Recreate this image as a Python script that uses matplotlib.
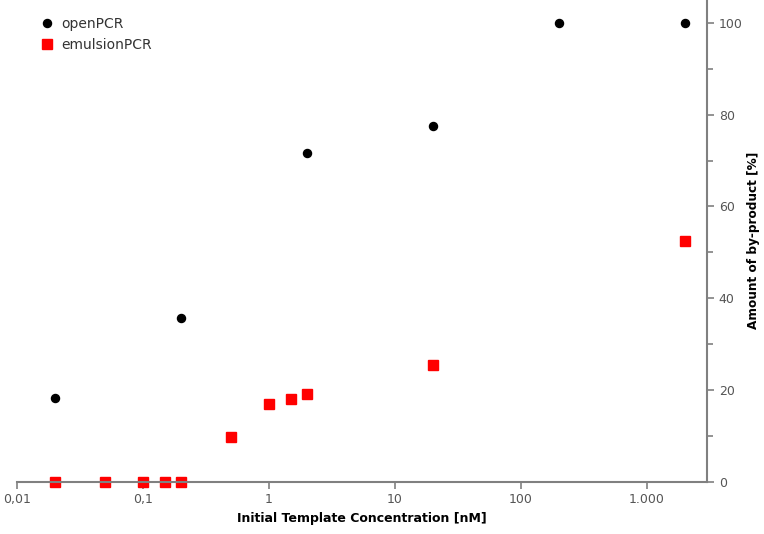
import matplotlib
matplotlib.use('Agg')
import matplotlib.pyplot as plt
from matplotlib.ticker import FixedLocator, FuncFormatter, MultipleLocator, NullLocator

#data
open_conc = [0.02, 0.2, 2, 20, 200, 2000]
open_byprod = [18.3, 35.7, 71.7, 77.5, 100, 100]

emul_conc = [0.02, 0.05, 0.1, 0.15, 0.2, 0.5, 1, 1.5, 2, 20, 2000]
emul_byprod = [0, 0, 0, 0, 0, 9.8, 16.8, 18.1, 19.1, 25.5, 52.4]

x_ticks = [0.01, 0.1, 1, 10, 100, 1000]
x_ticklabels = ['0,01', '0,1', '1', '10', '100', '1.000']

grey = '#808080'

fig = plt.figure(figsize=(7.64, 5.34), dpi=100)
ax = fig.add_axes([0.0223, 0.0983, 0.903, 0.9017])

ax.plot(open_conc, open_byprod, 'o', color='black', markersize=5.8,
        label='openPCR', clip_on=False)
ax.plot(emul_conc, emul_byprod, 's', color='#ff0000', markersize=7.5,
        label='emulsionPCR', clip_on=False)

ax.set_xscale('log')
ax.set_xlim(0.01, 3000)
ax.set_ylim(0, 105)

ax.xaxis.set_major_locator(FixedLocator(x_ticks))
ax.xaxis.set_minor_locator(NullLocator())
ax.xaxis.set_major_formatter(FuncFormatter(
    lambda v, p: x_ticklabels[x_ticks.index(v)] if v in x_ticks else ''))

ax.yaxis.tick_right()
ax.yaxis.set_label_position('right')
ax.yaxis.set_major_locator(MultipleLocator(20))
ax.yaxis.set_minor_locator(MultipleLocator(10))

for s in ['top', 'left']:
    ax.spines[s].set_visible(False)
for s in ['bottom', 'right']:
    ax.spines[s].set_color(grey)
    ax.spines[s].set_linewidth(1.5)

ax.tick_params(which='both', direction='out', color=grey, width=1.2,
               labelcolor='#555555', labelsize=9)
ax.tick_params(which='major', length=5)
ax.tick_params(which='minor', length=4)

ax.set_xlabel('Initial Template Concentration [nM]', fontsize=9,
              fontweight='bold', labelpad=4)
ax.set_ylabel('Amount of by-product [%]', fontsize=8.7, fontweight='bold',
              labelpad=3)

leg = ax.legend(loc='upper left', bbox_to_anchor=(0.007, 0.993), frameon=False,
                fontsize=10, handletextpad=0.2, labelspacing=0.45,
                borderaxespad=0.6, handlelength=1.6)
for t in leg.get_texts():
    t.set_color('#333333')

fig.savefig('out.png', dpi=100)
